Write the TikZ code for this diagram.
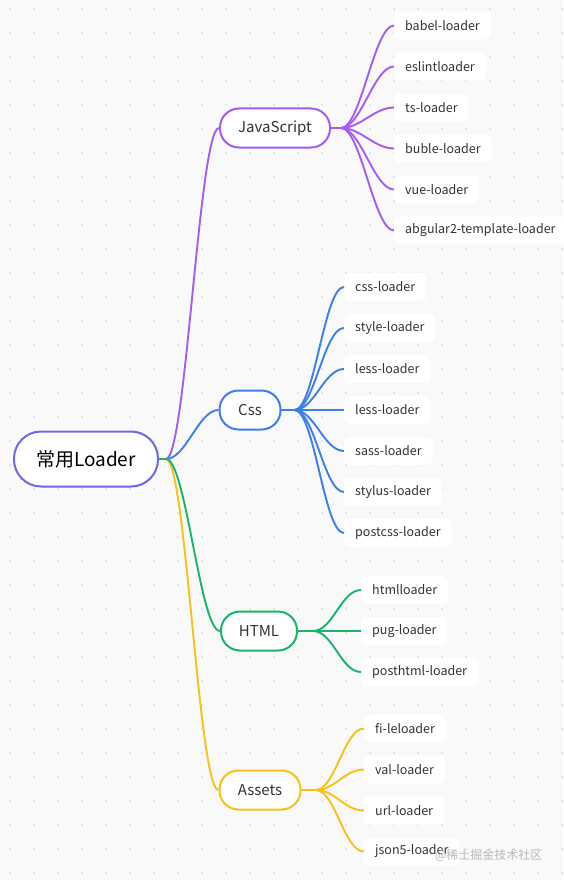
\documentclass[tikz,border=0pt]{standalone}
\usepackage{fontspec}
\setmainfont{Noto Sans CJK SC}
\usetikzlibrary{positioning}
\definecolor{bgpaper}{HTML}{F9F9F9}
\definecolor{griddot}{HTML}{CFCFCF}
\definecolor{txtgray}{HTML}{333333}
\definecolor{rootline}{HTML}{6C68E6}
\definecolor{jsline}{HTML}{A55CF0}
\definecolor{cssline}{HTML}{3D7FE8}
\definecolor{htmlline}{HTML}{18B46A}
\definecolor{assetline}{HTML}{F8C11A}

\begin{document}
\begin{tikzpicture}[x=1pt,y=-1pt,
topic/.style={draw,line width=2pt,fill=white,rounded corners=19pt,minimum height=39pt,
inner xsep=8pt,font=\fontsize{15}{18}\selectfont,text=txtgray},
leaf/.style={fill=white,rounded corners=5pt,anchor=west,inner xsep=11pt,minimum height=28pt,
font=\fontsize{12.5}{15}\selectfont,text=txtgray},
link/.style={line width=1.9pt}
]
% paper and dots
\fill[bgpaper] (0,0) rectangle (563,880);
\useasboundingbox (0,0) rectangle (563,880);
\foreach \i in {0,...,23}
  \foreach \j in {0,...,36}
    \fill[griddot] (10+24*\i,9+24*\j) circle (0.9pt);

\node[draw=rootline,line width=2pt,fill=white,rounded corners=27pt,minimum width=144pt,
minimum height=55pt,font=\fontsize{19}{22}\selectfont] (root) at (86,459) {常用Loader};

\node[topic,draw=jsline,minimum width=110pt] (js)     at (275,128) {JavaScript};
\node[topic,draw=cssline,minimum width=61pt] (css)    at (250,410) {Css};
\node[topic,draw=htmlline,minimum width=76pt] (html)  at (259,631) {HTML};
\node[topic,draw=assetline,minimum width=81pt] (assets) at (260,790) {Assets};

\foreach \t [count=\i] in {babel-loader,eslintloader,ts-loader,buble-loader,vue-loader,
abgular2-template-loader}
  \node[leaf] (js\i) at (394,{25.5+41*(\i-1)}) {\t};
\foreach \t [count=\i] in {css-loader,style-loader,less-loader,less-loader,sass-loader,
stylus-loader,postcss-loader}
  \node[leaf] (css\i) at (344,{287+41*(\i-1)}) {\t};
\foreach \t [count=\i] in {htmlloader,pug-loader,posthtml-loader}
  \node[leaf] (html\i) at (361,{590+41*(\i-1)}) {\t};
\foreach \t [count=\i] in {fi-leloader,val-loader,url-loader,json5-loader}
  \node[leaf] (assets\i) at (364,{728.5+41*(\i-1)}) {\t};

% root to topics
\draw[link,jsline] (root.east) -- ++(7,0) .. controls +(20,0) and +(-20,0) .. (js.west);
\draw[link,cssline] (root.east) -- ++(7,0) .. controls +(20,0) and +(-20,0) .. (css.west);
\draw[link,assetline] (root.east) -- ++(7,0) .. controls +(20,0) and +(-20,0) .. (assets.west);
\draw[link,htmlline] (root.east) -- ++(7,0) .. controls +(20,0) and +(-20,0) .. (html.west);

% topics to leaves
\foreach \i in {1,...,6}
  \draw[link,jsline] (js.east) -- ++(10,0) .. controls +(20,0) and +(-20,0) .. (js\i.west);
\foreach \i in {1,...,7}
  \draw[link,cssline] (css.east) -- ++(13,0) .. controls +(20,0) and +(-20,0) .. (css\i.west);
\foreach \i in {1,...,3}
  \draw[link,htmlline] (html.east) -- ++(15,0) .. controls +(20,0) and +(-20,0) .. (html\i.west);
\foreach \i in {1,...,4}
  \draw[link,assetline] (assets.east) -- ++(14,0) .. controls +(20,0) and +(-20,0) .. (assets\i.west);

\node[anchor=east,font=\fontsize{12}{14}\selectfont,text=black!28] (mark) at (546,855) {@稀土掘金技术社区};
\end{tikzpicture}
\end{document}
